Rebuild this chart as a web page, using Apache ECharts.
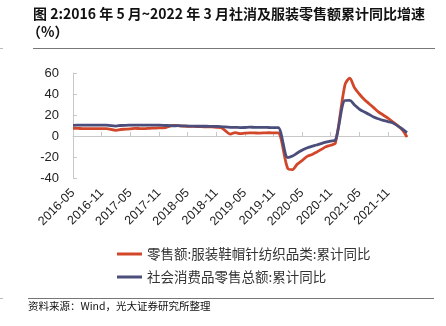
<!DOCTYPE html>
<html>
<head>
<meta charset="utf-8">
<script src="https://cdn.jsdelivr.net/npm/echarts@6/dist/echarts.min.js"></script>
<style>
html,body{margin:0;padding:0;background:#fff;}
#c{width:446px;height:326px;}
</style>
</head>
<body>
<div id="c"></div>
<script>
var categories = [
  '2016-05','2016-06','2016-07','2016-08','2016-09','2016-10','2016-11','2016-12',
  '2017-01','2017-02','2017-03','2017-04','2017-05','2017-06','2017-07','2017-08','2017-09','2017-10','2017-11','2017-12',
  '2018-01','2018-02','2018-03','2018-04','2018-05','2018-06','2018-07','2018-08','2018-09','2018-10','2018-11','2018-12',
  '2019-01','2019-02','2019-03','2019-04','2019-05','2019-06','2019-07','2019-08','2019-09','2019-10','2019-11','2019-12',
  '2020-01','2020-02','2020-03','2020-04','2020-05','2020-06','2020-07','2020-08','2020-09','2020-10','2020-11','2020-12',
  '2021-01','2021-02','2021-03','2021-04','2021-05','2021-06','2021-07','2021-08','2021-09','2021-10','2021-11','2021-12',
  '2022-01','2022-02','2022-03'
];
// 零售额:服装鞋帽针纺织品类:累计同比 (January not published -> null)
var apparel = [
  7.2, 7.2, 7.1, 7.1, 7.1, 7.1, 7.1, 7.0,
  null, 5.4, 6.2, 6.5, 6.8, 7.2, 7.1, 7.0, 7.3, 7.5, 7.7, 7.8,
  null, 10.1, 9.8, 9.5, 9.3, 9.2, 9.0, 8.9, 8.6, 8.6, 8.3, 8.0,
  null, 1.8, 3.3, 2.3, 2.7, 3.0, 2.9, 2.8, 2.9, 3.1, 3.0, 2.9,
  null, -30.9, -32.0, -26.8, -23.5, -19.6, -17.8, -15.4, -12.9, -10.3, -8.8, -6.6,
  null, 48.8, 55.0, 46.0, 40.0, 35.0, 31.0, 27.0, 23.0, 20.0, 17.0, 13.5,
  null, 6.0, -1.0
];
// 社会消费品零售总额:累计同比
var retailTotal = [
  10.2, 10.3, 10.3, 10.3, 10.4, 10.3, 10.4, 10.4,
  null, 9.5, 10.0, 10.2, 10.3, 10.4, 10.4, 10.4, 10.4, 10.3, 10.3, 10.2,
  null, 9.7, 9.8, 9.7, 9.5, 9.4, 9.3, 9.3, 9.3, 9.2, 9.1, 9.0,
  null, 8.2, 8.3, 8.0, 8.1, 8.4, 8.3, 8.2, 8.2, 8.1, 8.0, 8.0,
  null, -20.5, -19.0, -16.2, -13.5, -11.4, -9.9, -8.6, -7.2, -5.9, -4.8, -3.9,
  null, 33.8, 33.9, 29.6, 25.7, 23.0, 20.7, 18.1, 16.4, 14.9, 13.7, 12.5,
  null, 6.7, 3.3
];
var seriesNames = ['零售额:服装鞋帽针纺织品类:累计同比', '社会消费品零售总额:累计同比'];
var yTicks = {min: -40, max: 60, interval: 20};
var titleLine1 = '图 2:2016 年 5 月~2022 年 3 月社消及服装零售额累计同比增速';
var titleLine2 = '（%）';
var sourceText = '资料来源：Wind，光大证券研究所整理';

var RED = '#d2472a', BLUE = '#4b4e7b';
var chart = echarts.init(document.getElementById('c'), null, {renderer: 'canvas'});
var cjk = '"Noto Sans CJK SC", "Noto Sans", sans-serif';
chart.setOption({
  animation: false,
  backgroundColor: '#fff',
  grid: {left: 73, right: 39, top: 73, height: 105, containLabel: false},
  legend: {
    orient: 'vertical', left: 112, top: 242,
    itemWidth: 25, itemHeight: 3, itemGap: 9, icon: 'rect',
    textStyle: {fontSize: 13.5, lineHeight: 14, color: '#333', fontFamily: cjk},
    data: seriesNames
  },
  xAxis: [{
    type: 'category', data: categories, boundaryGap: false,
    axisLine: {show: false, onZero: false}, axisTick: {show: false},
    axisLabel: {interval: 5, rotate: 45, fontSize: 12.5, color: '#222', margin: 13, fontFamily: 'Liberation Sans, Arial, sans-serif'},
    splitLine: {show: false}
  }, {
    type: 'category', data: categories, boundaryGap: false, position: 'bottom',
    axisLine: {show: true, onZero: true, lineStyle: {color: '#c8c8c8', width: 1}},
    axisTick: {show: true, inside: true, length: 4, interval: 5, lineStyle: {color: '#c8c8c8'}},
    axisLabel: {show: false}, splitLine: {show: false}
  }],
  yAxis: {
    type: 'value', min: yTicks.min, max: yTicks.max, interval: yTicks.interval,
    axisLine: {show: true, lineStyle: {color: '#c8c8c8', width: 1}},
    axisTick: {show: true, inside: true, length: 4, lineStyle: {color: '#c8c8c8'}},
    axisLabel: {fontSize: 13, color: '#222', margin: 14, fontFamily: 'Liberation Sans, Arial, sans-serif'},
    splitLine: {show: false}
  },
  series: [{
    name: seriesNames[0], type: 'line', data: apparel, connectNulls: true,
    symbol: 'none', smooth: 0.3, lineStyle: {color: RED, width: 2.8}, itemStyle: {color: RED}, z: 2
  }, {
    name: seriesNames[1], type: 'line', data: retailTotal, connectNulls: true,
    symbol: 'none', smooth: 0.3, lineStyle: {color: BLUE, width: 2.8}, itemStyle: {color: BLUE}, z: 3
  }],
  graphic: [
    {type: 'text', left: 33, top: 7, style: {text: titleLine1, font: 'bold 14px ' + cjk, fill: '#111'}},
    {type: 'text', left: 27, top: 25, style: {text: titleLine2, font: 'bold 14px ' + cjk, fill: '#111'}},
    {type: 'line', shape: {x1: 33, y1: 48.5, x2: 435, y2: 48.5}, style: {stroke: '#777', lineWidth: 1.2}},
    {type: 'line', shape: {x1: 0, y1: 48.5, x2: 3, y2: 48.5}, style: {stroke: '#bbb', lineWidth: 1}},
    {type: 'line', shape: {x1: 28, y1: 298.5, x2: 434, y2: 298.5}, style: {stroke: '#777', lineWidth: 1.2}},
    {type: 'line', shape: {x1: 0, y1: 298.5, x2: 3, y2: 298.5}, style: {stroke: '#bbb', lineWidth: 1}},
    {type: 'text', left: 28, top: 301, style: {text: sourceText, font: '10.5px ' + cjk, fill: '#111'}}
  ]
});
</script>
</body>
</html>
